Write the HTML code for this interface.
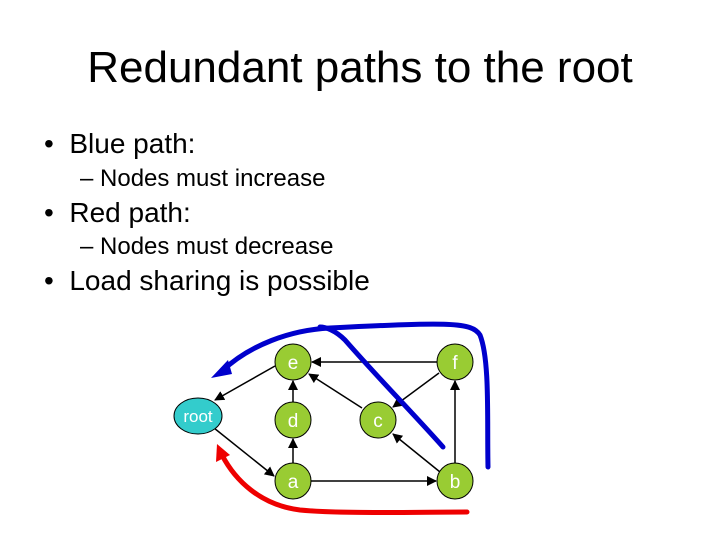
<!DOCTYPE html>
<html><head><style>
body{margin:0;width:720px;height:540px;background:#fff;font-family:"Liberation Sans",sans-serif;position:relative;overflow:hidden}
.t{position:absolute;white-space:nowrap;color:#000}
</style></head><body>
<div class="t" style="left:0;width:720px;text-align:center;top:43px;font-size:44px">Redundant paths to the root</div>
<div class="t" style="left:44px;top:128px;font-size:28px">•&nbsp; Blue path:</div>
<div class="t" style="left:80px;top:165px;font-size:24px">– Nodes must increase</div>
<div class="t" style="left:44px;top:197px;font-size:28px">•&nbsp; Red path:</div>
<div class="t" style="left:80px;top:233px;font-size:24px">– Nodes must decrease</div>
<div class="t" style="left:44px;top:265px;font-size:28px">•&nbsp; Load sharing is possible</div>
<svg width="720" height="540" style="position:absolute;left:0;top:0">
<defs><marker id="ar" markerWidth="10" markerHeight="10" refX="9" refY="5" orient="auto" markerUnits="userSpaceOnUse"><path d="M0,0 L10,5 L0,10 Z" fill="#000"/></marker></defs>
<g stroke="#000" stroke-width="1.5" marker-end="url(#ar)">
<line x1="275" y1="366" x2="215" y2="400"/>
<line x1="214" y1="428" x2="274" y2="476"/>
<line x1="293" y1="463" x2="293" y2="439"/>
<line x1="293" y1="402" x2="293" y2="381"/>
<line x1="311" y1="481" x2="436" y2="481"/>
<line x1="455" y1="463" x2="455" y2="381"/>
<line x1="437" y1="362" x2="312" y2="362"/>
<line x1="362" y1="408" x2="309" y2="374"/>
<line x1="439" y1="373" x2="393" y2="407"/>
<line x1="440" y1="472" x2="393" y2="434"/>
</g>
<g fill="#9c3" stroke="#000" stroke-width="1">
<circle cx="293" cy="362" r="18"/><circle cx="455" cy="362" r="18"/>
<circle cx="293" cy="420" r="18"/><circle cx="378" cy="420" r="18"/>
<circle cx="293" cy="481" r="18"/><circle cx="455" cy="481" r="18"/>
</g>
<ellipse cx="198" cy="416" rx="24" ry="18" fill="#3cc" stroke="#000"/>
<g fill="#fff" font-family="Liberation Sans" font-size="19" text-anchor="middle">
<text x="293" y="369">e</text><text x="455" y="369">f</text><text x="293" y="427">d</text>
<text x="378" y="427">c</text><text x="293" y="488">a</text><text x="455" y="488">b</text>
<text x="198" y="422" font-size="17">root</text></g>
<g fill="none" stroke="#00c" stroke-width="5" stroke-linecap="round">
<path d="M488,467 C487,420 490,360 480,335 C472,322 450,322 330,328 C290,330 250,345 222,371"/>
<path d="M443,447 C410,410 380,380 345,340 C335,330 325,327 320,327"/>
</g>
<path d="M211,378 L228,360 L232,374 Z" fill="#00c"/>
<path d="M467,512 C420,512 340,514 300,510 C260,505 235,480 222,455" fill="none" stroke="#e00" stroke-width="5" stroke-linecap="round"/>
<path d="M217,444 L216,462 L230,455 Z" fill="#e00"/>
</svg>
</body></html>
